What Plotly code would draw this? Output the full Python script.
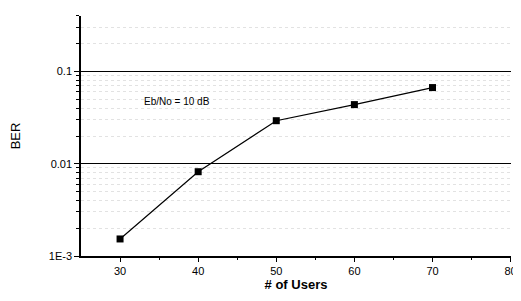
import plotly.graph_objects as go

users = [30, 40, 50, 60, 70]
ber = [0.00153, 0.0082, 0.0293, 0.0438, 0.067]
y_tickvals = [0.001, 0.01, 0.1]
y_ticktext = ["1E-3", "0.01", "0.1"]
y_minor_vals = [m * d for d in (0.001, 0.01, 0.1) for m in range(2, 10)]
x_tickvals = [30, 40, 50, 60, 70, 80]
x_minor_vals = [35, 45, 55, 65, 75]
annotation_text = "Eb/No = 10 dB"

fig = go.Figure()
fig.add_trace(go.Scatter(
    x=users, y=ber, mode="lines+markers",
    line=dict(color="black", width=1.2),
    marker=dict(symbol="square", size=7, color="black"),
    showlegend=False,
))

font = "Liberation Sans, Arial, sans-serif"
fig.update_layout(
    width=513, height=293,
    margin=dict(l=73, r=10, t=8, b=45),
    paper_bgcolor="white", plot_bgcolor="white",
    font=dict(family=font, color="black", size=11),
    xaxis=dict(
        range=[25, 80.05], tickvals=x_tickvals,
        showline=True, linecolor="black", linewidth=1.5,
        ticks="outside", ticklen=4, tickcolor="black",
        showgrid=False, zeroline=False, automargin=False,
        minor=dict(tickvals=x_minor_vals, ticks="outside", ticklen=2,
                   tickcolor="black", showgrid=False),
        title=dict(text="<b># of Users</b>", font=dict(size=13), standoff=4),
        tickfont=dict(size=11),
    ),
    yaxis=dict(
        type="log", range=[-3, -0.398],
        tickvals=y_tickvals, ticktext=y_ticktext,
        showline=True, linecolor="black", linewidth=1.5,
        ticks="outside", ticklen=5, tickcolor="black",
        showgrid=True, gridcolor="black", gridwidth=1,
        zeroline=False, automargin=False,
        minor=dict(tickvals=y_minor_vals, ticks="outside", ticklen=3,
                   tickcolor="black", showgrid=True, gridcolor="#e2e2e2",
                   griddash="dot", gridwidth=1),
        title=dict(text="BER", font=dict(size=13), standoff=30),
        tickfont=dict(size=11),
    ),
    annotations=[dict(
        x=37.3, y=-1.33, xref="x", yref="y", text=annotation_text,
        showarrow=False, font=dict(size=10),
    )],
)

fig.write_html("out.html")
